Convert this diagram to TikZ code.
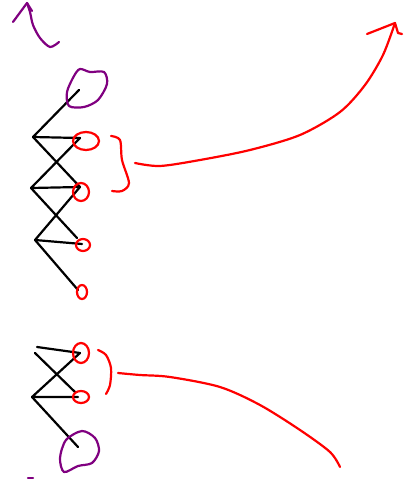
\documentclass[tikz,border=0pt]{standalone}
\usepackage{tikz}
\usetikzlibrary{calc,positioning}
\usepackage{xcolor}
\definecolor{PenPurple}{HTML}{800080}
\definecolor{PenRed}{HTML}{FF0000}

\tikzset{
  pen/.style={line width=2.2pt, line cap=round, line join=round},
  edge/.style={pen, black},
  leaf/.style={pen, PenRed},
  root/.style={pen, PenPurple}
}

\begin{document}
\begin{tikzpicture}[x=1pt, y=-1pt]  % 像素坐标
  \useasboundingbox[fill=white] (0,0) rectangle (409,487);
  % 左上角的紫色箭头
  \draw[root] plot[smooth] coordinates {(59,42) (50,47) (40,38) (33,25) (30,12) (27,3)};
  \draw[root] (13,22) -- (27,3) -- (32,11);
  % 上面的树
  \coordinate (t0) at (79,90);
  \coordinate (a1) at (33,137); \coordinate (b1) at (80,138);
  \coordinate (a2) at (31,188); \coordinate (b2) at (80,187);
  \coordinate (a3) at (35,240); \coordinate (b3) at (82,244);
  \coordinate (c3) at (77,238); \coordinate (b4) at (78,290);
  \draw[edge] (t0) -- (a1) -- (b1);
  \draw[edge] (b1) -- (a2) -- (b2);
  \draw[edge] (a1) -- (b2);
  \draw[edge] (a2) -- (c3);
  \draw[edge] (b2) -- (a3) -- (b3);
  \draw[edge] (a3) -- (b4);
  \draw[root] plot[smooth cycle] coordinates {(80,69) (90,72) (104,72) (107,84) (98,100) (84,107) (69,106) (67,92) (74,76)};
  \draw[leaf] (b1) ++(6,3) ellipse (13 and 9);
  \draw[leaf] (b2) ++(1,5) ellipse (8 and 9);
  \draw[leaf] (b3) ++(1,1) ellipse (7 and 6);
  \draw[leaf] (b4) ++(4,2) ellipse (5 and 7);
  % 括号和大箭头
  \draw[leaf] plot[smooth] coordinates {(111,136) (120,140) (122,160) (129,183) (122,191) (112,191)};
  \coordinate (h1) at (395,23);
  \draw[leaf] plot[smooth] coordinates {(135,163) (160,166) (200,160) (250,150) (300,135) (340,112) (365,85) (383,55) (h1)};
  \draw[leaf] (367,34) -- (h1) -- (398,33) -- (402,34);
  % 下面的树
  \coordinate (p1) at (37,347); \coordinate (q1) at (80,353);
  \coordinate (p0) at (35,353);
  \coordinate (p2) at (32,397); \coordinate (q2) at (78,397);
  \coordinate (q0) at (75,392); \coordinate (q3) at (78,447);
  \draw[edge] (p1) -- (q1);
  \draw[edge] (p0) -- (q0);
  \draw[edge] (q1) -- (p2) -- (q2);
  \draw[edge] (p2) -- (q3);
  \draw[leaf] (q1) ++(1,0) ellipse (8 and 10);
  \draw[leaf] (q2) ++(3,0) ellipse (8 and 6);
  \draw[root] plot[smooth cycle] coordinates {(82,431) (95,438) (99,451) (92,463) (78,466) (64,472) (60,458) (66,440)};
  \draw[root] (28,478) -- (33,478);
  \draw[leaf] plot[smooth] coordinates {(98,350) (106,355) (111,368) (110,385) (106,394)};
  \draw[leaf] plot[smooth] coordinates {(118,373) (140,375) (170,377) (220,387) (260,405) (300,430) (330,452) (340,467)};
\end{tikzpicture}
\end{document}
